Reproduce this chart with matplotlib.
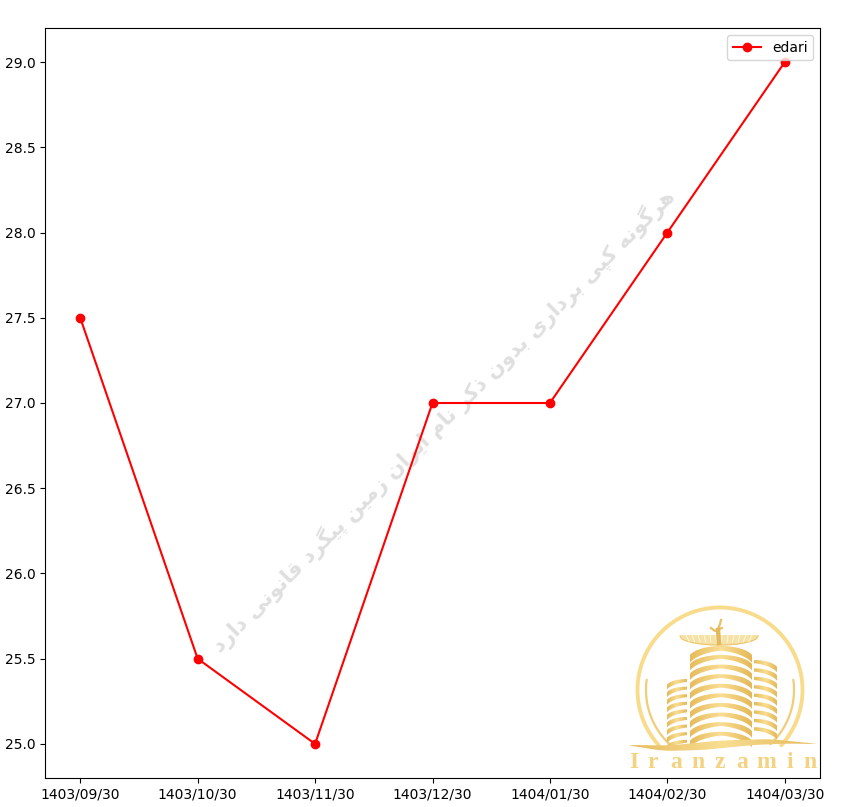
import numpy as np
import matplotlib
matplotlib.use('Agg')
import matplotlib.pyplot as plt
from matplotlib.colors import LinearSegmentedColormap
from matplotlib.path import Path
from matplotlib.patches import PathPatch

dates = ['1403/09/30', '1403/10/30', '1403/11/30', '1403/12/30',
         '1404/01/30', '1404/02/30', '1404/03/30']
edari = [27.5, 25.5, 25.0, 27.0, 27.0, 28.0, 29.0]
watermark = 'هرگونه کپی برداری بدون ذکر نام ایران زمین پیگرد قانونی دارد'
logo_letters = list('Iranzamin')

# isolated, final, initial, medial
forms = {'ه': 'ﻩﻪﻫﻬ', 'گ': 'ﮒﮓﮔﮕ', 'ن': 'ﻥﻦﻧﻨ', 'ک': 'ﮎﮏﮐﮑ', 'پ': 'ﭖﭗﭘﭙ',
         'ی': 'ﯼﯽﯾﯿ', 'ب': 'ﺏﺐﺑﺒ', 'م': 'ﻡﻢﻣﻤ', 'ق': 'ﻕﻖﻗﻘ',
         'ر': 'ﺭﺮ', 'و': 'ﻭﻮ', 'د': 'ﺩﺪ', 'ا': 'ﺍﺎ', 'ذ': 'ﺫﺬ', 'ز': 'ﺯﺰ'}


def shape(text):
    # matplotlib does not join arabic letters, so pick the forms by hand
    out = []
    for i, c in enumerate(text):
        if c not in forms:
            out.append(c)
            continue
        prev = text[i - 1] if i > 0 else ' '
        nxt = text[i + 1] if i < len(text) - 1 else ' '
        joins_prev = prev in forms and len(forms[prev]) == 4
        joins_next = nxt in forms and len(forms[c]) == 4
        if joins_prev and joins_next:
            out.append(forms[c][3])
        elif joins_prev:
            out.append(forms[c][1])
        elif joins_next:
            out.append(forms[c][2])
        else:
            out.append(forms[c][0])
    return ''.join(out)[::-1]


fig = plt.figure(figsize=(8.48, 8.07), dpi=100)
ax = fig.add_axes([45 / 848, 1 - 778 / 807, 775 / 848, 750 / 807])
ax.plot(dates, edari, color='red', marker='o', label='edari', zorder=3)
ax.set_xlim(-0.3, 6.3)
ax.set_ylim(24.8, 29.2)
ax.legend(loc='upper right')
ax.text(0.5135, 0.477, shape(watermark), transform=ax.transAxes, rotation=45,
        ha='center', va='center', fontsize=15, fontweight='bold',
        color='#dfdfdf', family='DejaVu Sans', zorder=1)

# logo, drawn in pixel coordinates on top of the chart
logo = fig.add_axes([0, 0, 1, 1])
logo.patch.set_alpha(0)
logo.axis('off')

gold = LinearSegmentedColormap.from_list('gold', ['#e6bb5c', '#f9de92', '#e4b858'])
ring = '#f8dc8c'


def arc(cx, cy, r, a0, a1, lw, color=ring):
    a = np.radians(np.linspace(a0, a1, 120))
    logo.plot(cx + r * np.cos(a), cy - r * np.sin(a), color=color, lw=lw,
              solid_capstyle='round')


def stripes(x0, x1, tops, rise, thick, peak=0.5):
    # curved bands, highest at the fraction peak of the width
    verts, codes = [], []
    xs = np.linspace(x0, x1, 40)
    px = x0 + peak * (x1 - x0)
    u = (xs - px) / max(px - x0, x1 - px)
    curve = rise * (1 - np.sqrt(1 - 0.9 * u ** 2))
    for y in tops:
        upper = y + curve
        lower = upper + thick * (1.2 - 0.5 * (1 - np.abs(u)))
        pts = list(zip(xs, upper)) + list(zip(xs[::-1], lower[::-1]))
        verts += pts + [pts[0]]
        codes += [Path.MOVETO] + [Path.LINETO] * (len(pts) - 1) + [Path.CLOSEPOLY]
    return Path(verts, codes)


def gradient(path, x0, x1, y0, y1):
    im = logo.imshow(np.linspace(0, 1, 100)[None, :], cmap=gold, aspect='auto',
                     extent=(x0, x1, y1, y0), zorder=4)
    patch = PathPatch(path, transform=logo.transData, fc='none', ec='none')
    logo.add_patch(patch)
    im.set_clip_path(patch)


arc(720, 690, 82.5, -42, 222, 2.8)
arc(720, 690, 74, 172, 232, 1.6, '#f0cd78')
arc(720, 690, 74, -47, 8, 1.6, '#f0cd78')

# towers
gradient(stripes(667, 687, np.arange(679, 740, 7.6), 8, 4.2, peak=1.0), 667, 687, 675, 750)
gradient(stripes(754, 777, np.arange(660, 732, 8.4), 10, 4.6, peak=0.0), 754, 777, 655, 745)
gradient(stripes(690, 752, np.arange(655, 738, 9.6), 13, 5.4), 690, 752, 645, 752)
gradient(stripes(690, 752, [646], 13, 6.5), 690, 752, 640, 665)

# faravahar
wing_x = np.linspace(680, 758, 60)
wing_u = (wing_x - 719) / 39
wing_low = 636 + 9 * np.sqrt(1 - wing_u ** 2)
logo.fill_between(wing_x, 634.5, wing_low, color='#f7e2a6', lw=0, zorder=5)
logo.plot(wing_x, wing_low, color='#ecc76e', lw=0.8, zorder=5)
for x in np.arange(686, 756, 6):
    logo.plot([x, 719 + (x - 719) * 0.9], [635, 642], color='#ffffff', lw=0.5, zorder=5)
logo.plot([718, 720, 721], [629, 624, 620], color='#e8c066', lw=1.6, zorder=6)
logo.plot([711, 715, 722], [628, 631, 628], color='#e8c066', lw=1.6, zorder=6)
logo.plot([718, 719], [630, 643], color='#e3b95c', lw=3.2, zorder=6)

# swoosh along the bottom
top_x = [628, 670, 720, 770, 817]
top_y = [745, 745.5, 740.5, 739, 744]
low_x = [628, 663, 703, 753, 787, 817]
low_y = [745, 751, 750, 745, 743.5, 744]
sw_x = np.linspace(628, 817, 120)
sw_top = np.convolve(np.interp(sw_x, top_x, top_y), np.ones(15) / 15, mode='same')
sw_low = np.convolve(np.interp(sw_x, low_x, low_y), np.ones(15) / 15, mode='same')
sw_top[:8], sw_low[:8] = np.linspace(745, sw_top[8], 8), np.linspace(745, sw_low[8], 8)
sw_top[-8:], sw_low[-8:] = np.linspace(sw_top[-9], 744, 8), np.linspace(sw_low[-9], 744, 8)
sw_verts = list(zip(sw_x, sw_top)) + list(zip(sw_x[::-1], sw_low[::-1]))
sw_codes = [Path.MOVETO] + [Path.LINETO] * (len(sw_verts) - 1)
gradient(Path(sw_verts, sw_codes), 628, 817, 735, 755)

letter_x = [634, 653, 676, 698, 720, 742, 766, 790, 810]
for x, c in zip(letter_x, logo_letters):
    logo.text(x, 762, c, ha='center', va='center', fontsize=17, fontweight='bold',
              family='Liberation Serif', color='#f3d282', zorder=6)

logo.set_xlim(0, 848)
logo.set_ylim(807, 0)

fig.savefig('out.png', dpi=100)
